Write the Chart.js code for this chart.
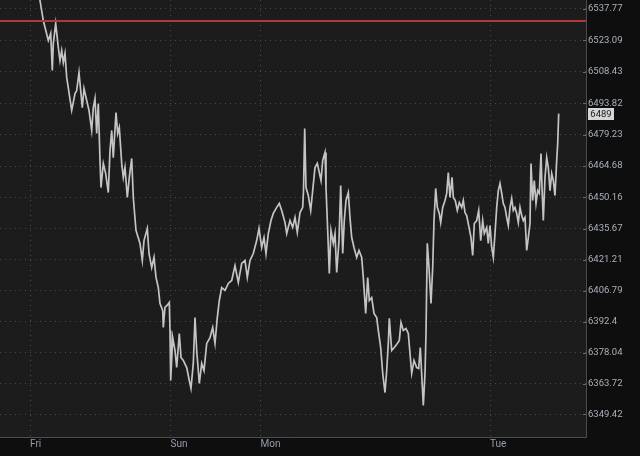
<!DOCTYPE html>
<html><head><meta charset="utf-8">
<script src="https://cdn.jsdelivr.net/npm/chart.js@4/dist/chart.umd.min.js"></script>
<style>html,body{margin:0;padding:0;background:#0e0e0e;overflow:hidden}#wrap{width:640px;height:456px;position:relative}</style>
</head><body><div id="wrap"><canvas id="c" width="640" height="456"></canvas></div>
<script>
// session bar position (x) and price (y)
const times = [38,40,43.3,48.3,50.7,52.3,53.3,55.7,58.3,60,61.7,63.3,65,66.7,71.7,75,76.7,79,80.7,82.3,84,86.7,89,91.7,93.3,95,96.7,98.3,100,101,103.3,105.7,108.3,110,111.7,113.3,116,117.7,119.3,121.7,123.3,125,127.3,129.3,131.7,133.3,136,140,142.3,144,147.3,149,151.7,154,156,158.3,160,162.7,163.3,165,167,169.3,170,170.7,172.7,175,176.7,179.3,181,183.3,186.7,189.3,191,193.3,195,196.7,199.3,201.7,204,206.7,210,212.7,215,217.3,219.3,221.7,225,228.3,231.7,235,238.3,241.7,245,247.3,250,253.3,256.7,259,261.7,264,266,268.3,271,273.3,276.7,279.3,281.7,285,286.7,290,292.7,295,297.3,300,302.7,303.5,304.7,306,308.3,310.7,312.7,315,317.3,319.3,321,322.7,325,326,327.7,329.3,331,333.3,335,336.7,339,340.7,342.7,344.3,346,348.3,350,351.7,354,356.7,359,361.7,363.3,365.7,367.7,369.3,371.7,374,376.7,378.3,380.7,382.7,385,386.7,388.3,389.3,391.7,394.3,397.3,399.3,401,403.3,406,408.3,410,411.7,414,416.7,418.7,420.3,422.7,423.3,425,426,427.3,429,431,432.7,434,435.7,437.3,439.3,440.7,442.7,445,446.7,448.3,450,452,453.3,455.3,457.3,459.3,461.7,463.3,465,466.7,469,471,472.7,474.3,476.7,478.7,480.7,482.7,484.3,486.7,488.3,490,491.7,493.3,495,496.7,498.3,500,501.7,503.3,505,506.7,508.3,510,511.7,513.3,515,516.7,518.3,520,521.7,523.3,525,526.7,528.3,530,531,532.7,534.3,536,537.7,539.3,541,542,543.3,545,546.7,548.3,550,551.7,553.3,555,556.7,557.7,558.7];
const prices = [6543.8,6541.5,6532.2,6522.9,6526.2,6509.0,6521.5,6530.8,6519.7,6513.6,6518.3,6512.7,6516.9,6505.8,6490.5,6498.3,6499.7,6508.1,6499.7,6491.8,6500.7,6495.1,6490.5,6481.2,6491.8,6496.0,6479.8,6493.7,6467.3,6454.7,6465.9,6461.2,6452.4,6471.9,6481.2,6468.6,6489.5,6479.8,6482.6,6465.9,6459.4,6464.0,6450.1,6459.4,6468.2,6450.1,6434.8,6428.8,6420.9,6430.1,6435.7,6424.1,6417.6,6422.3,6413.0,6408.3,6400.9,6397.7,6389.8,6399.1,6400.0,6401.4,6388.4,6365.2,6385.1,6379.1,6371.2,6387.0,6375.9,6374.5,6371.2,6365.2,6361.5,6373.1,6394.4,6379.1,6363.8,6373.1,6369.8,6382.4,6385.1,6389.8,6382.4,6394.4,6402.3,6408.3,6407.0,6410.2,6411.6,6418.5,6410.7,6419.5,6420.9,6413.0,6420.9,6424.1,6430.1,6435.7,6426.9,6431.5,6424.1,6433.4,6439.4,6442.7,6445.5,6447.3,6444.1,6438.5,6433.4,6439.4,6436.2,6440.8,6433.9,6443.1,6445.5,6453.3,6482.1,6454.7,6451.0,6444.1,6453.3,6464.0,6465.9,6461.7,6458.0,6467.3,6471.0,6454.7,6434.8,6414.8,6434.8,6428.8,6433.4,6415.3,6430.1,6455.7,6424.1,6439.4,6448.7,6452.4,6440.8,6431.5,6426.9,6422.3,6425.5,6422.3,6413.0,6396.3,6413.0,6402.3,6403.7,6396.3,6394.4,6388.4,6380.5,6368.5,6359.6,6369.8,6382.4,6394.0,6379.1,6380.5,6382.4,6383.8,6392.1,6388.4,6389.3,6387.0,6377.7,6368.5,6374.5,6371.2,6370.8,6380.5,6359.2,6353.6,6368.5,6387.0,6428.8,6417.6,6400.9,6417.6,6439.4,6454.3,6445.5,6442.7,6438.5,6445.5,6448.7,6452.0,6461.7,6450.1,6459.4,6450.1,6448.7,6444.1,6447.8,6445.5,6448.7,6443.1,6441.7,6436.2,6431.5,6423.2,6438.0,6439.4,6444.1,6430.1,6439.4,6433.4,6436.2,6428.8,6437.1,6426.9,6422.3,6433.4,6445.5,6453.3,6456.6,6452.0,6447.3,6445.5,6440.8,6437.1,6445.5,6449.6,6444.1,6445.5,6442.7,6438.5,6445.5,6441.7,6439.4,6440.8,6425.5,6431.5,6438.0,6465.9,6448.7,6458.0,6447.3,6453.3,6452.0,6470.5,6454.7,6439.4,6459.4,6468.6,6464.0,6453.3,6461.2,6458.0,6451.0,6467.3,6475.1,6489.0];
const yTickValues = [6537.77,6523.09,6508.43,6493.82,6479.23,6464.68,6450.16,6435.67,6421.21,6406.79,6392.4,6378.04,6363.72,6349.42];
const xTickPositions = [30,170.5,260.5,490];
const xTickLabels = ['Fri','Sun','Mon','Tue'];
const alertLevel = 6532.0;
const lastPrice = 6489;
const xRange = [0,586];
const yRange = [6338.97,6541.72];

const bgPlugin = {
  id:'bg',
  beforeDraw(chart){
    const {ctx, chartArea:a} = chart;
    ctx.save();
    ctx.fillStyle = '#0e0e0e';
    ctx.fillRect(0,0,chart.width,chart.height);
    ctx.fillStyle = '#1c1c1c';
    ctx.fillRect(a.left,a.top,a.right-a.left,a.bottom-a.top);
    ctx.restore();
  },
  afterDraw(chart){
    const {ctx, chartArea:a, scales} = chart;
    ctx.save();
    ctx.strokeStyle = '#4d4d4d';
    ctx.lineWidth = 1;
    ctx.beginPath();
    ctx.moveTo(a.right+0.5, a.top);
    ctx.lineTo(a.right+0.5, a.bottom+0.5);
    ctx.lineTo(a.left, a.bottom+0.5);
    ctx.stroke();
    ctx.strokeStyle = '#6a6a6a';
    ctx.beginPath();
    scales.y.ticks.forEach(t=>{
      const py = Math.round(scales.y.getPixelForValue(t.value))+0.5;
      ctx.moveTo(a.right-3, py); ctx.lineTo(a.right, py);
    });
    ctx.stroke();
    const y = scales.y.getPixelForValue(lastPrice);
    ctx.fillStyle = '#d6d6d6';
    ctx.fillRect(a.right+2, Math.round(y)-6, 26, 12);
    ctx.fillStyle = '#1a1a1a';
    ctx.font = '9.5px Roboto';
    ctx.textAlign = 'center';
    ctx.textBaseline = 'middle';
    ctx.fillText(String(lastPrice), a.right+15, Math.round(y)+0.5);
    ctx.restore();
  }
};

new Chart(document.getElementById('c'), {
  type:'line',
  data:{
    datasets:[
      {data:[{x:xRange[0],y:alertLevel},{x:xRange[1],y:alertLevel}], borderColor:'#b03838', borderWidth:2, pointRadius:0},
      {data:times.map((t,i)=>({x:t,y:prices[i]})), borderColor:'#c4c4c4', borderWidth:1.7, pointRadius:0, tension:0}
    ]
  },
  options:{
    responsive:false, animation:false, devicePixelRatio:1,
    layout:{padding:0},
    plugins:{legend:{display:false}, tooltip:{enabled:false}},
    scales:{
      x:{
        type:'linear', min:xRange[0], max:xRange[1], position:'bottom',
        afterBuildTicks(s){ s.ticks = xTickPositions.map(v=>({value:v})); },
        afterFit(s){ s.height = 19; s.paddingLeft = 0; s.paddingRight = 0; },
        ticks:{ callback:(v,i)=>xTickLabels[i], align:'start', color:'#949cab', font:{family:'Roboto', size:10}, padding:1, maxRotation:0, autoSkip:false },
        grid:{ color:'#4a4a4a', drawTicks:false, lineWidth:1 },
        border:{ display:false, dash:[1,4] }
      },
      y:{
        type:'linear', min:yRange[0], max:yRange[1], position:'right',
        afterBuildTicks(s){ s.ticks = yTickValues.map(v=>({value:v})); },
        afterFit(s){ s.width = 54; s.paddingTop = 0; s.paddingBottom = 0; },
        ticks:{ callback:v=>String(v), color:'#a9b1ba', font:{family:'Roboto', size:9.5}, padding:2, autoSkip:false },
        grid:{ color:'#4a4a4a', drawTicks:false, lineWidth:1 },
        border:{ display:false, dash:[1,4] }
      }
    }
  },
  plugins:[bgPlugin]
});
</script></body></html>
